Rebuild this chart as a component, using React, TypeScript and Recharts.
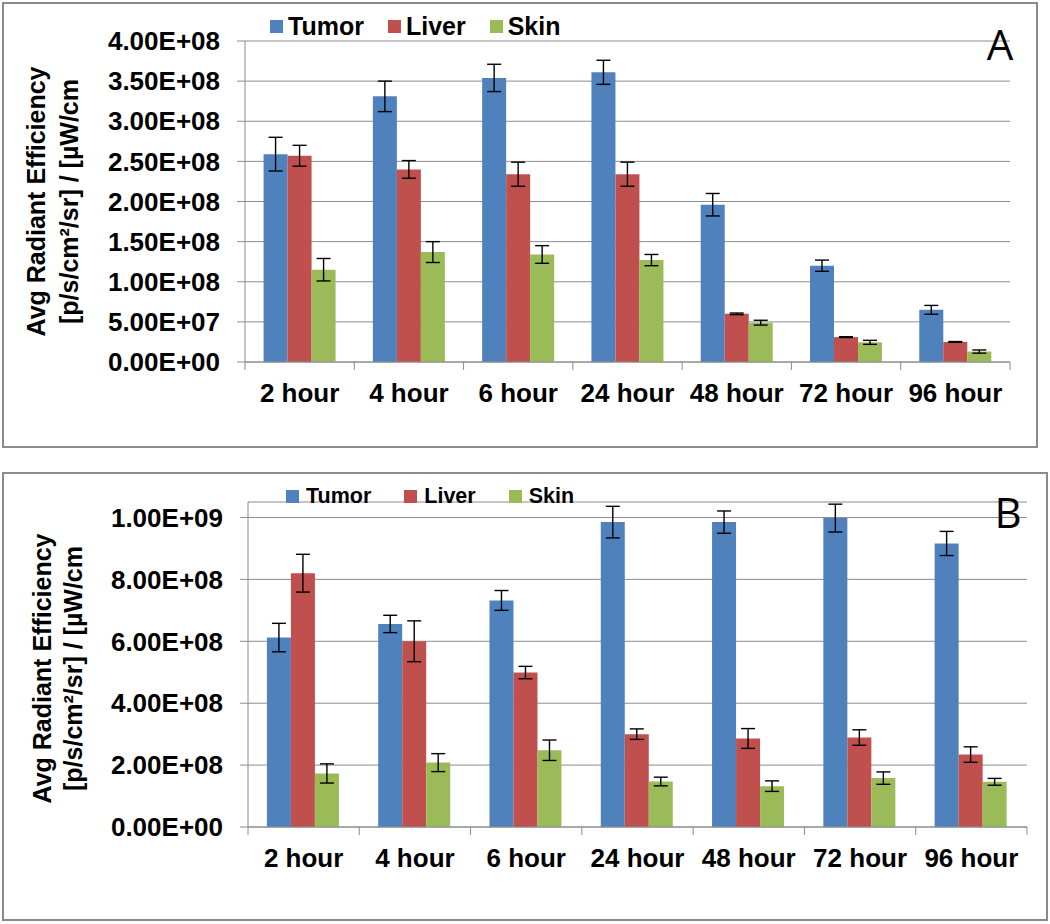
import React from "react";
import { Bar, BarChart, CartesianGrid, ErrorBar, Legend, XAxis, YAxis } from "recharts";

const hours = ["2 hour", "4 hour", "6 hour", "24 hour", "48 hour", "72 hour", "96 hour"];
const seriesNames = ["Tumor", "Liver", "Skin"];

// panel A (values in units of 1e8)
const tumorA = [2.59, 3.31, 3.54, 3.61, 1.96, 1.2, 0.65];
const tumorAErr = [0.21, 0.19, 0.17, 0.15, 0.14, 0.07, 0.055];
const liverA = [2.57, 2.4, 2.34, 2.34, 0.6, 0.31, 0.25];
const liverAErr = [0.13, 0.11, 0.15, 0.15, 0.01, 0.005, 0.005];
const skinA = [1.15, 1.37, 1.34, 1.27, 0.49, 0.245, 0.13];
const skinAErr = [0.14, 0.13, 0.11, 0.07, 0.03, 0.025, 0.02];
const ticksA = [0, 0.5, 1, 1.5, 2, 2.5, 3, 3.5, 4];

// panel B (values in units of 1e8)
const tumorB = [6.12, 6.56, 7.32, 9.85, 9.85, 9.98, 9.16];
const tumorBErr = [0.46, 0.28, 0.32, 0.51, 0.36, 0.45, 0.39];
const liverB = [8.2, 6.0, 4.99, 3.0, 2.86, 2.89, 2.34];
const liverBErr = [0.61, 0.66, 0.2, 0.17, 0.32, 0.25, 0.25];
const skinB = [1.73, 2.08, 2.48, 1.47, 1.32, 1.58, 1.46];
const skinBErr = [0.31, 0.29, 0.33, 0.14, 0.17, 0.2, 0.11];
const ticksB = [0, 2, 4, 6, 8, 10];

const E8 = 1e8;
const BLUE = "#4f81bd";
const RED = "#c0504d";
const GREEN = "#9bbb59";
const GRID = "#8c8c8c";
const FONT = "'Liberation Sans', Arial, sans-serif";

function buildRows(t: number[], te: number[], l: number[], le: number[], s: number[], se: number[]) {
  return hours.map((h, i) => ({
    hour: h,
    tumor: t[i] * E8,
    tumorErr: te[i] * E8,
    liver: l[i] * E8,
    liverErr: le[i] * E8,
    skin: s[i] * E8,
    skinErr: se[i] * E8,
  }));
}

const dataA = buildRows(tumorA, tumorAErr, liverA, liverAErr, skinA, skinAErr);
const dataB = buildRows(tumorB, tumorBErr, liverB, liverBErr, skinB, skinBErr);

function sci(v: number) {
  const [m, e] = v.toExponential(2).split("e");
  return `${m}E${e[0]}${e.slice(1).padStart(2, "0")}`;
}

function makeXTick(band: number, count: number) {
  return function XTick(props: any) {
    const { x, y, payload, index } = props;
    return (
      <g>
        <line x1={x - band / 2} x2={x - band / 2} y1={y} y2={y + 8} stroke={GRID} />
        {index === count - 1 && (
          <line x1={x + band / 2} x2={x + band / 2} y1={y} y2={y + 8} stroke={GRID} />
        )}
        <text x={x} y={y + 31} dy="0.35em" textAnchor="middle" fontFamily={FONT} fontSize={26} fontWeight="bold" fill="#000">
          {payload.value}
        </text>
      </g>
    );
  };
}

function makeYTitle(x1: number, x2: number, shift: number) {
  return function YTitle(props: any) {
    const vb = props.viewBox;
    const cy = vb.y + vb.height / 2 + shift;
    const common = { fontFamily: FONT, fontSize: 25, fontWeight: "bold" as const, fill: "#000", textAnchor: "middle" as const, dominantBaseline: "central" as const };
    return (
      <g>
        <text x={x1} y={cy} transform={`rotate(-90 ${x1} ${cy})`} {...common}>
          Avg Radiant Efficiency
        </text>
        <text x={x2} y={cy} transform={`rotate(-90 ${x2} ${cy})`} {...common}>
          [p/s/cm²/sr] / [µW/cm
        </text>
      </g>
    );
  };
}

function makeLegend(fontSize: number, square: number, textGap: number, itemGap: number) {
  return function LegendBox(props: any) {
    const payload = props.payload || [];
    const items = seriesNames
      .map((n) => payload.find((p: any) => p.value === n))
      .filter(Boolean);
    return (
      <div style={{ display: "flex", alignItems: "center", gap: itemGap, fontFamily: FONT, fontWeight: "bold", fontSize, color: "#000", lineHeight: 1 }}>
        {items.map((p: any) => (
          <div key={p.value} style={{ display: "flex", alignItems: "center", gap: textGap }}>
            <span style={{ width: square, height: square, background: p.color, display: "inline-block" }} />
            <span>{p.value}</span>
          </div>
        ))}
      </div>
    );
  };
}

type PanelProps = {
  data: any[];
  top: number;
  height: number;
  margin: { top: number; right: number; bottom: number; left: number };
  yWidth: number;
  domainMax: number;
  ticks: number[];
  plotWidth: number;
  legendTop: number;
  legendLeft: number;
  legend: (p: any) => React.ReactNode;
  title: (p: any) => React.ReactNode;
};

function Panel(p: PanelProps) {
  const XTick = makeXTick(p.plotWidth / hours.length, hours.length);
  return (
    <div style={{ position: "absolute", left: 0, top: p.top }}>
      <BarChart
        width={1050}
        height={p.height}
        data={p.data}
        margin={p.margin}
        barCategoryGap="17%"
        barGap={0}
      >
        <CartesianGrid vertical={false} stroke={GRID} strokeWidth={1} />
        <XAxis
          dataKey="hour"
          axisLine={{ stroke: GRID }}
          tickLine={false}
          tickSize={0}
          tickMargin={0}
          height={60}
          interval={0}
          tick={<XTick />}
        />
        <YAxis
          width={p.yWidth}
          domain={[0, p.domainMax]}
          ticks={p.ticks.map((t) => t * E8)}
          allowDataOverflow
          tickFormatter={sci}
          axisLine={{ stroke: GRID }}
          tickLine={{ stroke: GRID }}
          tickSize={8}
          tickMargin={17}
          tick={{ fill: "#000", fontSize: 26, fontWeight: "bold", fontFamily: FONT }}
          label={p.title}
        />
        <Legend
          layout="horizontal"
          verticalAlign="middle"
          align="center"
          content={p.legend}
          wrapperStyle={{ top: p.legendTop, left: p.legendLeft, width: "auto" }}
        />
        <Bar dataKey="tumor" name="Tumor" fill={BLUE} isAnimationActive={false}>
          <ErrorBar dataKey="tumorErr" width={7} stroke="#000" strokeWidth={1.4} isAnimationActive={false} />
        </Bar>
        <Bar dataKey="liver" name="Liver" fill={RED} isAnimationActive={false}>
          <ErrorBar dataKey="liverErr" width={7} stroke="#000" strokeWidth={1.4} isAnimationActive={false} />
        </Bar>
        <Bar dataKey="skin" name="Skin" fill={GREEN} isAnimationActive={false}>
          <ErrorBar dataKey="skinErr" width={7} stroke="#000" strokeWidth={1.4} isAnimationActive={false} />
        </Bar>
      </BarChart>
    </div>
  );
}

const LegendA = makeLegend(25, 13, 5, 24);
const LegendB = makeLegend(21.5, 13, 7, 33);
const TitleA = makeYTitle(36, 69, 0);
const TitleB = makeYTitle(42, 73, 4);

export default function App() {
  const border = { position: "absolute" as const, border: "2px solid #8a8a8a", boxSizing: "border-box" as const, background: "#fff" };
  const letter = { position: "absolute" as const, fontFamily: "'Open Sans', 'Liberation Sans', sans-serif", fontSize: 42, lineHeight: "42px", color: "#000", transform: "translate(-50%, -50%)" };
  return (
    <div style={{ position: "absolute", left: 0, top: 0, width: 1050, height: 924, background: "#fff", overflow: "hidden" }}>
      <div style={{ ...border, left: 2, top: 2, width: 1036, height: 446 }} />
      <div style={{ ...border, left: 2, top: 472, width: 1046, height: 449 }} />
      <Panel
        data={dataA}
        top={0}
        height={450}
        margin={{ top: 41, right: 40, bottom: 28, left: 0 }}
        yWidth={245}
        domainMax={4 * E8}
        ticks={ticksA}
        plotWidth={765}
        legendTop={14}
        legendLeft={270}
        legend={LegendA}
        title={TitleA}
      />
      <Panel
        data={dataB}
        top={470}
        height={454}
        margin={{ top: 32, right: 23, bottom: 37, left: 0 }}
        yWidth={248}
        domainMax={10.5 * E8}
        ticks={ticksB}
        plotWidth={779}
        legendTop={16}
        legendLeft={286}
        legend={LegendB}
        title={TitleB}
      />
      <div style={{ ...letter, left: 1000, top: 44 }}>A</div>
      <div style={{ ...letter, left: 1008, top: 512 }}>B</div>
    </div>
  );
}
